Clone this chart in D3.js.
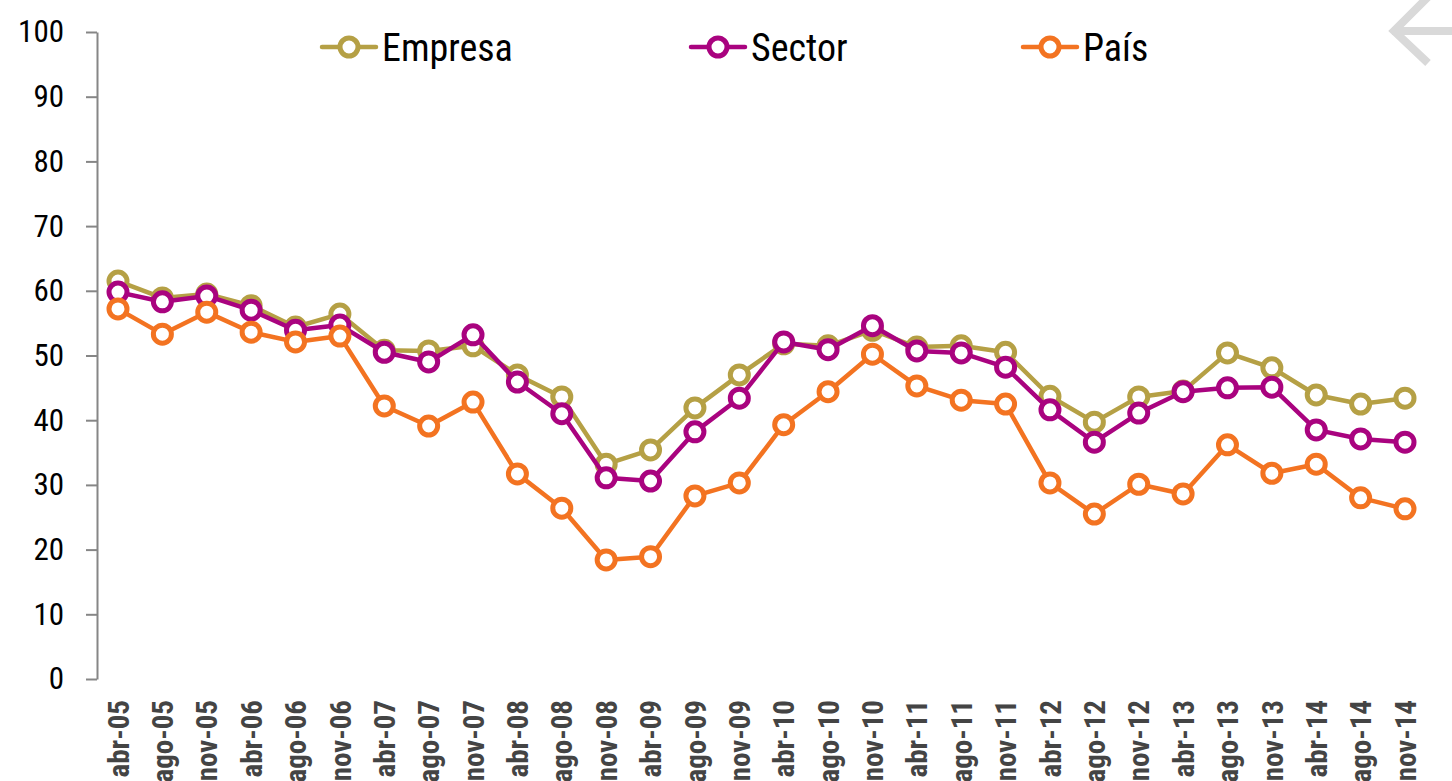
<!DOCTYPE html>
<html>
<head>
<meta charset="utf-8">
<script src="https://cdn.jsdelivr.net/npm/d3@7"></script>
<style>
  html, body { margin: 0; padding: 0; background: #ffffff; }
  svg { display: block; }
</style>
</head>
<body>
<svg id="chart" width="1452" height="781"></svg>
<script>
// Survey periods (x-axis)
const categories = [
  "abr-05","ago-05","nov-05","abr-06","ago-06","nov-06","abr-07","ago-07","nov-07",
  "abr-08","ago-08","nov-08","abr-09","ago-09","nov-09","abr-10","ago-10","nov-10",
  "abr-11","ago-11","nov-11","abr-12","ago-12","nov-12","abr-13","ago-13","nov-13",
  "abr-14","ago-14","nov-14"
];

// Index values per series
const empresa = [61.5,58.9,59.5,57.7,54.4,56.4,50.8,50.7,51.5,47.0,43.6,33.2,35.4,41.9,47.0,
                 51.8,51.5,53.9,51.3,51.5,50.5,43.7,39.7,43.6,44.5,50.4,48.1,43.9,42.5,43.4];
const sector  = [59.8,58.3,59.2,57.0,53.9,54.7,50.5,49.0,53.2,45.9,41.0,31.1,30.6,38.2,43.4,
                 52.1,50.9,54.6,50.7,50.4,48.2,41.6,36.6,41.1,44.4,45.0,45.1,38.5,37.1,36.6];
const pais    = [57.2,53.3,56.7,53.6,52.1,53.0,42.2,39.1,42.8,31.7,26.4,18.4,18.9,28.3,30.3,
                 39.3,44.4,50.2,45.3,43.1,42.5,30.3,25.5,30.1,28.6,36.2,31.8,33.2,28.0,26.3];

const seriesNames = ["Empresa", "Sector", "País"];
const yTicks = [0,10,20,30,40,50,60,70,80,90,100];

const colors = { "Empresa": "#b5a045", "Sector": "#a9037f", "País": "#f37321" };
const series = [
  { name: "Empresa", values: empresa },
  { name: "Sector",  values: sector },
  { name: "País",    values: pais }
];

const FONT = "'Liberation Sans Narrow', 'Arial Narrow', 'Roboto Condensed', 'DejaVu Sans Condensed', sans-serif";

const svg = d3.select("#chart");

const x = d3.scalePoint().domain(categories).range([118, 1405]);
const y = d3.scaleLinear().domain([0, 100]).range([679, 32]);

// Y axis
const yAxis = svg.append("g")
  .attr("transform", "translate(97,0)")
  .call(d3.axisLeft(y).tickValues(yTicks).tickSize(11).tickPadding(22).tickSizeOuter(0));
yAxis.select(".domain").attr("stroke", "#868686").attr("stroke-width", 2);
yAxis.selectAll(".tick line").attr("stroke", "#868686").attr("stroke-width", 2);
yAxis.selectAll(".tick text")
  .attr("fill", "#000")
  .style("font-family", FONT)
  .style("font-size", "31px");

// X axis labels (rotated)
const xAxis = svg.append("g")
  .attr("transform", "translate(0,679)")
  .call(d3.axisBottom(x).tickSize(0).tickPadding(0));
xAxis.select(".domain").remove();
xAxis.selectAll(".tick text")
  .attr("fill", "#444444")
  .style("font-family", FONT)
  .style("font-size", "29px")
  .style("font-weight", "bold")
  .attr("text-anchor", "end")
  .attr("dy", "0.35em")
  .attr("transform", "translate(0,21) rotate(-90)")
  .attr("x", 0).attr("y", 0);

// Lines and markers
const line = d3.line()
  .x((d, i) => x(categories[i]))
  .y(d => y(d));

series.forEach(s => {
  const g = svg.append("g").attr("class", "series");
  g.append("path")
    .datum(s.values)
    .attr("d", line)
    .attr("fill", "none")
    .attr("stroke", colors[s.name])
    .attr("stroke-width", 4.5)
    .attr("stroke-linejoin", "round");
  g.selectAll("circle")
    .data(s.values)
    .join("circle")
    .attr("cx", (d, i) => x(categories[i]))
    .attr("cy", d => y(d))
    .attr("r", 9)
    .attr("fill", "#fff")
    .attr("stroke", colors[s.name])
    .attr("stroke-width", 5);
});

// Legend
const legendX = [349, 718, 1050];
const legendY = 47;
series.forEach((s, i) => {
  const g = svg.append("g").attr("transform", `translate(${legendX[i]},${legendY})`);
  g.append("line").attr("x1", -27).attr("x2", 27).attr("y1", 0).attr("y2", 0)
    .attr("stroke", colors[s.name]).attr("stroke-width", 4.5).attr("stroke-linecap", "round");
  g.append("circle").attr("r", 9).attr("fill", "#fff")
    .attr("stroke", colors[s.name]).attr("stroke-width", 5);
  g.append("text").attr("x", 33).attr("y", 14)
    .attr("fill", "#000")
    .style("font-family", FONT)
    .style("font-size", "38px")
    .text(s.name);
});

// Back arrow in the top-right corner
svg.append("path")
  .attr("d", "M1462,31 L1392,31 M1428,-3 L1394,31 L1428,63")
  .attr("fill", "none")
  .attr("stroke", "#d9d9d9")
  .attr("stroke-width", 8);
</script>
</body>
</html>
